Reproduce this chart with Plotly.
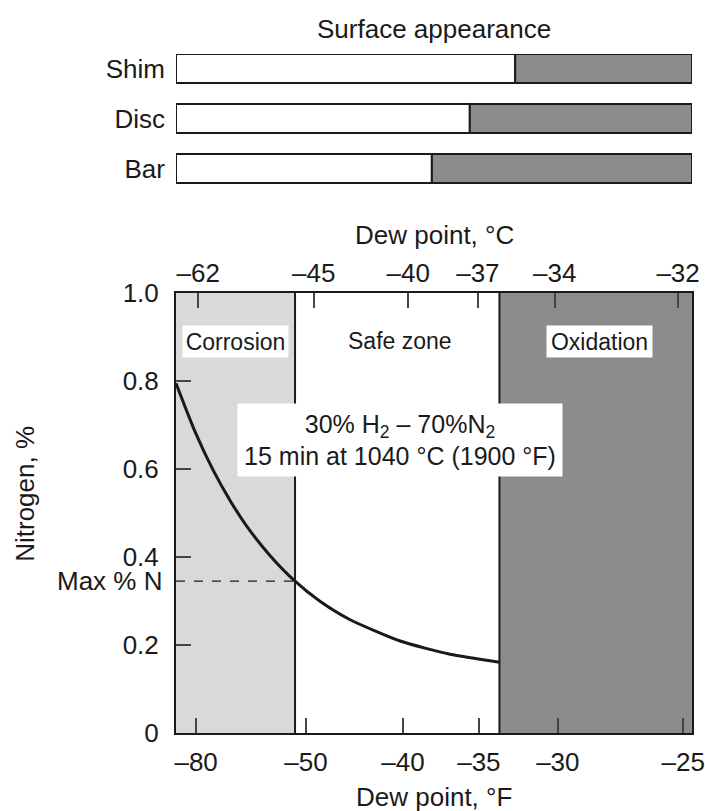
import numpy as np
import plotly.graph_objects as go

# ---------------- data ----------------
F_TICKS = [-80, -50, -40, -35, -30, -25]          # bottom axis, dew point °F
C_TICKS = [-62, -45, -40, -37, -34, -32]          # top axis, dew point °C

# The printed dew-point scale is not linear: calibration of the °F scale
# (value -> fraction of the plot width) read from the tick marks
SCALE_F = [-85.5, -80, -50, -40, -35, -30, -25, -24.6]
SCALE_FRAC = [0.0, 0.039, 0.252, 0.440, 0.587, 0.740, 0.983, 1.0]
# fraction of the plot width at which each °C tick is printed
C_TICK_FRAC = [0.043, 0.267, 0.450, 0.585, 0.734, 0.973]

# nitrogen pick-up curve
CURVE_F = [-85.5, -80.3, -75.4, -70.7, -66.1, -59.8, -53.0, -48.6, -45.5, -40.3, -36.9, -33.7]
CURVE_N = [0.795, 0.685, 0.598, 0.528, 0.469, 0.403, 0.345, 0.300, 0.258, 0.209, 0.179, 0.161]

CORROSION_LIMIT_F = -53.0
OXIDATION_LIMIT_F = -33.7
MAX_N = 0.345

# surface appearance: dew point (°F) at which the surface turns oxidised
PARTS = ["Bar", "Disc", "Shim"]
PART_LIMIT_F = [-38.1, -35.6, -32.7]

Y_TICKS = [0, 0.2, 0.4, 0.6, 0.8, 1.0]
Y_LABELS = ["0", "0.2", "0.4", "0.6", "0.8", "1.0"]


def fpos(v):
    return np.interp(v, SCALE_F, SCALE_FRAC)


FONT = "Liberation Sans, Arial, Helvetica, sans-serif"
INK = "#1a1a1a"
LIGHT = "#d9d9d9"
DARK = "#8c8c8c"
FS = 26

fig = go.Figure()

# ---------------- surface-appearance bars ----------------
lim = fpos(PART_LIMIT_F)
fig.add_trace(go.Bar(
    y=PARTS, x=lim, base=[0] * len(PARTS), orientation="h",
    marker=dict(color="white", line=dict(color=INK, width=2)),
    width=0.58, xaxis="x3", yaxis="y3", showlegend=False, hoverinfo="skip"))
fig.add_trace(go.Bar(
    y=PARTS, x=1 - lim, base=lim, orientation="h",
    marker=dict(color=DARK, line=dict(color=INK, width=2)),
    width=0.58, xaxis="x3", yaxis="y3", showlegend=False, hoverinfo="skip"))

# ---------------- main chart ----------------
xc = float(fpos(CORROSION_LIMIT_F))
xo = float(fpos(OXIDATION_LIMIT_F))

shapes = [
    dict(type="rect", xref="x", yref="y", x0=0, x1=xc, y0=0, y1=1,
         fillcolor=LIGHT, line_width=0, layer="below"),
    dict(type="rect", xref="x", yref="y", x0=xo, x1=1, y0=0, y1=1,
         fillcolor=DARK, line_width=0, layer="below"),
    dict(type="line", xref="x", yref="y", x0=xc, x1=xc, y0=0, y1=1,
         line=dict(color=INK, width=2)),
    dict(type="line", xref="x", yref="y", x0=xo, x1=xo, y0=0, y1=1,
         line=dict(color=INK, width=2)),
    dict(type="line", xref="x", yref="y", x0=0, x1=xc, y0=MAX_N, y1=MAX_N,
         line=dict(color=INK, width=1.3, dash="dash")),
]

fig.add_trace(go.Scatter(
    x=fpos(CURVE_F), y=CURVE_N, mode="lines",
    line=dict(color=INK, width=3, shape="spline", smoothing=0.6),
    showlegend=False, hoverinfo="skip"))

# invisible trace carrying the top (°C) axis
fig.add_trace(go.Scatter(x=[0, 1], y=[0, 0], xaxis="x2", yaxis="y",
                         mode="markers", marker=dict(opacity=0),
                         showlegend=False, hoverinfo="skip"))

tickfont = dict(family=FONT, size=FS, color=INK)


def txt(size):
    return dict(family=FONT, size=size, color=INK)


annotations = [
    dict(text="Corrosion", xref="x", yref="y", x=0.115, y=0.890,
         showarrow=False, bgcolor="white", width=103, height=29,
         font=txt(23)),
    dict(text="Safe zone", xref="x", yref="y", x=0.434, y=0.890,
         showarrow=False, font=txt(23)),
    dict(text="Oxidation", xref="x", yref="y", x=0.821, y=0.890,
         showarrow=False, bgcolor="white", width=103, height=29,
         font=txt(23)),
    dict(text="30% H<sub>2</sub> – 70%N<sub>2</sub><br>15 min at 1040 °C (1900 °F)",
         xref="x", yref="y", x=0.434, y=0.666, showarrow=False,
         bgcolor="white", width=322, height=70, font=txt(25)),
    dict(text="Max % N", xref="paper", yref="y", x=0, y=MAX_N,
         xanchor="right", yanchor="middle", xshift=-12, showarrow=False,
         font=txt(FS)),
    dict(text="Nitrogen, %", xref="paper", yref="paper", x=-0.293, y=0.352,
         xanchor="center", yanchor="middle",
         textangle=-90, showarrow=False, font=txt(FS)),
    dict(text="Dew point, °C", xref="paper", yref="paper", x=0.5,
         y=(733 - 235) / 679, xanchor="center", yanchor="middle",
         showarrow=False, font=txt(FS)),
    dict(text="Dew point, °F", xref="paper", yref="paper", x=0.5,
         y=(733 - 797) / 679, xanchor="center", yanchor="middle",
         showarrow=False, font=txt(FS)),
    dict(text="Surface appearance", xref="paper", yref="paper", x=0.5,
         y=(733 - 29) / 679, xanchor="center", yanchor="middle",
         showarrow=False, font=txt(FS)),
]

tick_common = dict(ticks="inside", ticklen=15, tickwidth=1.5, tickcolor="#444",
                   showgrid=False, zeroline=False, tickfont=tickfont,
                   fixedrange=True, automargin=False)

fig.update_layout(
    width=705, height=811, autosize=False,
    margin=dict(l=176, r=13, t=54, b=78, autoexpand=False),
    paper_bgcolor="white", plot_bgcolor="white",
    barmode="overlay",
    font=dict(family=FONT, color=INK),
    shapes=shapes, annotations=annotations,
    xaxis=dict(domain=[0, 1], range=[0, 1], tickvals=fpos(F_TICKS),
               ticktext=["–%d" % abs(v) for v in F_TICKS],
               showline=True, linewidth=2, linecolor=INK, mirror=True,
               ticklabelstandoff=5, **tick_common),
    xaxis2=dict(overlaying="x", side="top", range=[0, 1], tickvals=C_TICK_FRAC,
                ticktext=["–%d" % abs(v) for v in C_TICKS],
                showline=False, ticklabelstandoff=5, **tick_common),
    yaxis=dict(domain=[0, 0.648], range=[0, 1], tickvals=Y_TICKS, ticktext=Y_LABELS,
               showline=True, linewidth=2, linecolor=INK, mirror=True,
               ticklabelstandoff=10, **tick_common),
    xaxis3=dict(domain=[0, 1], range=[0, 1], anchor="y3", visible=False,
                fixedrange=True, automargin=False),
    yaxis3=dict(domain=[0.8085, 1.0], range=[-0.31, 2.29], anchor="x3",
                type="category", categoryorder="array", categoryarray=PARTS,
                showline=False, showgrid=False, zeroline=False, ticks="",
                ticklabelstandoff=10, tickfont=tickfont, fixedrange=True,
                automargin=False),
)

# remove the default page margin so the 705x811 figure fills the window exactly
fig.write_html(
    "out.html",
    config={"displayModeBar": False, "responsive": False},
    post_script=("document.documentElement.style.margin='0';"
                 "document.body.style.margin='0';"
                 "document.documentElement.style.overflow='hidden';"
                 "document.body.style.overflow='hidden';"),
)
